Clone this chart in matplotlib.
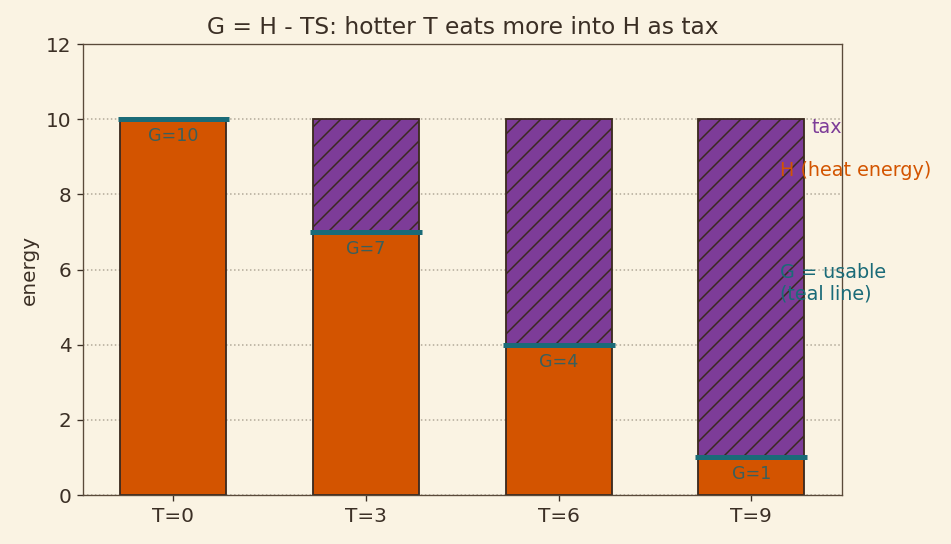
import matplotlib
matplotlib.use("Agg")
import matplotlib.pyplot as plt
import numpy as np

categories = ["T=0", "T=3", "T=6", "T=9"]
H_values = [10, 10, 10, 10]
G_values = [10, 7, 4, 1]
tax_values = [h - g for h, g in zip(H_values, G_values)]

bg = "#faf3e3"
orange = "#d35400"
purple = "#7d3c98"
teal = "#1a6b78"
edge = "#3b2a20"
txt = "#3b2f25"

plt.rcParams["hatch.linewidth"] = 0.9
fig, ax = plt.subplots(figsize=(951 / 120, 544 / 120), dpi=120)
fig.patch.set_facecolor(bg)
ax.set_facecolor(bg)

x = np.arange(len(categories))
w = 0.55
ax.bar(x, G_values, width=w, color=orange, edgecolor=edge, linewidth=1.1, zorder=2)
ax.bar(x, tax_values, width=w, bottom=G_values, color=purple, edgecolor=edge,
       linewidth=1.1, hatch="//", zorder=2)
for xi, g in zip(x, G_values):
    ax.hlines(g, xi - 0.29, xi + 0.29, color=teal, linewidth=3, zorder=3)
    ax.text(xi, g - 0.45, f"G={g}", ha="center", va="center", fontsize=10.5,
            color="#3a5f5c", zorder=4)

ax.text(3.31, 9.78, "tax", color=purple, fontsize=11.5, va="center", ha="left")
ax.text(3.15, 8.64, "H (heat energy)", color=orange, fontsize=11.5, va="center", ha="left")
ax.text(3.15, 5.64, "G = usable\n(teal line)", color=teal, fontsize=11.5, va="center", ha="left")

ax.set_ylim(0, 12)
ax.set_xticks(x)
ax.set_xticklabels(categories, fontsize=12, color=txt)
ax.tick_params(axis="y", labelsize=12, colors=txt)
ax.tick_params(axis="x", colors=txt)
ax.set_ylabel("energy", fontsize=12, color=txt)
ax.set_title("G = H - TS: hotter T eats more into H as tax", fontsize=14, color=txt)
ax.yaxis.grid(True, linestyle=":", color="#b0a898", linewidth=0.9, zorder=0)
ax.set_axisbelow(True)
for s in ax.spines.values():
    s.set_color("#5a4a3a")

fig.subplots_adjust(left=0.0873, right=0.885, top=0.919, bottom=0.09)
fig.savefig("out.png", dpi=120, facecolor=bg)
